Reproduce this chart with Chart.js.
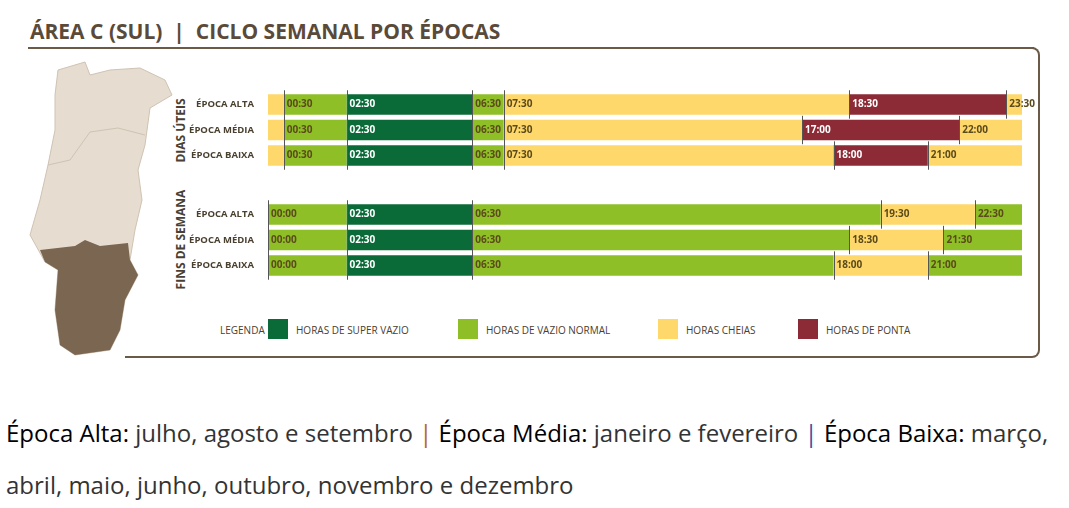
<!DOCTYPE html>
<html>
<head>
<meta charset="utf-8">
<script src="https://cdn.jsdelivr.net/npm/chart.js@4"></script>
<style>
  body { margin: 0; width: 1069px; height: 508px; background: #fff; position: relative; overflow: hidden; font-family: "Open Sans", sans-serif; }
  .abs { position: absolute; }
  #title { left: 30px; top: 17px; font-weight: bold; font-size: 21px; color: #5a4a3a; white-space: pre; }
  .vt { transform: rotate(-90deg); transform-origin: center; font-weight: bold; font-size: 12px; color: #4a3f33; white-space: nowrap; text-align: center; width: 140px; }
  .leg { font-size: 10px; color: #4a4030; top: 323px; }
  .sw { width: 20px; height: 20px; top: 319px; }
  .bottom { left: 6px; font-size: 24px; color: #333; white-space: nowrap; }
  .bottom b { color: #000; font-weight: 500; }
</style>
</head>
<body>
<div id="title" class="abs">ÁREA C (SUL)  |  CICLO SEMANAL POR ÉPOCAS</div>
<div class="abs" style="left:28px;top:47px;width:1006px;height:2px;background:#6b5a48"></div>
<div class="abs" style="left:125px;top:47px;width:913px;height:307px;border-right:2px solid #6b5a48;border-bottom:2px solid #6b5a48;border-bottom-right-radius:8px;border-top-right-radius:8px;border-top:2px solid #6b5a48"></div>

<svg class="abs" style="left:0;top:0" width="200" height="370">
  <polygon fill="#e6ddd0" stroke="#cfc3b3" points="58,70 85,62 90,75 110,70 140,68 165,80 172,95 150,108 145,145 138,170 142,200 135,230 130,260 138,275 125,300 120,330 110,350 75,355 60,345 55,310 58,270 45,262 30,235 40,200 48,165 55,130 55,95"/>
  <polyline fill="none" stroke="#cfc3b3" points="48,165 70,160 90,132 118,128 145,135"/>
  <polygon fill="#7a6651" points="40,250 75,246 85,240 100,246 128,243 130,260 138,275 125,300 120,330 110,350 75,355 60,345 55,310 58,270 45,262"/>
</svg>

<div class="abs vt" style="left:110px;top:122px">DIAS ÚTEIS</div>
<div class="abs vt" style="left:110px;top:231px">FINS DE SEMANA</div>

<div class="abs" style="left:185px;top:80px;width:855px;height:100px"><canvas id="c1"></canvas></div>
<div class="abs" style="left:185px;top:190px;width:855px;height:100px"><canvas id="c2"></canvas></div>

<div class="abs leg" style="left:220px">LEGENDA</div>
<div class="abs sw" style="left:268px;background:#0a6b38"></div>
<div class="abs leg" style="left:296px">HORAS DE SUPER VAZIO</div>
<div class="abs sw" style="left:458px;background:#8fbf27"></div>
<div class="abs leg" style="left:486px">HORAS DE VAZIO NORMAL</div>
<div class="abs sw" style="left:658px;background:#ffd86b"></div>
<div class="abs leg" style="left:686px">HORAS CHEIAS</div>
<div class="abs sw" style="left:798px;background:#8c2a35"></div>
<div class="abs leg" style="left:826px">HORAS DE PONTA</div>

<div class="abs bottom" style="top:416px"><b>Época Alta:</b> julho, agosto e setembro <span style="color:#b5651d">|</span> <b>Época Média:</b> janeiro e fevereiro <span style="color:#3050a0">|</span> <b>Época Baixa:</b> março,</div>
<div class="abs bottom" style="top:468px">abril, maio, junho, outubro, novembro e dezembro</div>

<script>
const rows = ['ÉPOCA ALTA', 'ÉPOCA MÉDIA', 'ÉPOCA BAIXA'];
// segment boundaries in hours, per row
const weekdayBreaks = [
  [0, 0.5, 2.5, 6.5, 7.5, 18.5, 23.5, 24],
  [0, 0.5, 2.5, 6.5, 7.5, 17, 22, 24],
  [0, 0.5, 2.5, 6.5, 7.5, 18, 21, 24]
];
const weekdayKinds = ['cheias', 'vazio', 'super', 'vazio', 'cheias', 'ponta', 'cheias'];
const weekendBreaks = [
  [0, 2.5, 6.5, 19.5, 22.5, 24],
  [0, 2.5, 6.5, 18.5, 21.5, 24],
  [0, 2.5, 6.5, 18, 21, 24]
];
const weekendKinds = ['vazio', 'super', 'vazio', 'cheias', 'vazio'];

const colors = { super: '#0a6b38', vazio: '#8fbf27', cheias: '#ffd86b', ponta: '#8c2a35' };
const textColors = { super: '#ffffff', vazio: '#5b4a1a', cheias: '#5b4a1a', ponta: '#ffffff' };

function fmt(h) {
  const hh = Math.floor(h), mm = Math.round((h - hh) * 60);
  return String(hh).padStart(2, '0') + ':' + String(mm).padStart(2, '0');
}

const labelPlugin = {
  id: 'segLabels',
  afterDatasetsDraw(chart) {
    const ctx = chart.ctx;
    ctx.save();
    ctx.font = 'bold 10px "Open Sans"';
    ctx.textBaseline = 'middle';
    chart.data.datasets.forEach((ds, i) => {
      if (ds.skipLabel) return;
      chart.getDatasetMeta(i).data.forEach((el, r) => {
        const start = Math.min(el.x, el.base);
        const top = el.y - el.height / 2, bot = el.y + el.height / 2;
        ctx.strokeStyle = '#555';
        ctx.lineWidth = 1;
        ctx.beginPath();
        ctx.moveTo(Math.round(start) + 0.5, top - 4);
        ctx.lineTo(Math.round(start) + 0.5, bot + 4);
        ctx.stroke();
        ctx.fillStyle = ds.textColor;
        ctx.fillText(fmt(ds.data[r][0]), start + 3, el.y);
      });
    });
    ctx.restore();
  }
};

function makeChart(id, breaks, kinds, skipFirst) {
  const datasets = kinds.map((k, j) => ({
    data: breaks.map(b => [b[j], b[j + 1]]),
    backgroundColor: colors[k],
    textColor: textColors[k],
    skipLabel: skipFirst && j === 0,
    grouped: false,
    barPercentage: 0.8,
    categoryPercentage: 1
  }));
  new Chart(document.getElementById(id), {
    type: 'bar',
    data: { labels: rows, datasets },
    options: {
      indexAxis: 'y',
      responsive: true,
      maintainAspectRatio: false,
      animation: false,
      layout: { padding: { top: 4, bottom: 4, right: 18 } },
      plugins: { legend: { display: false }, tooltip: { enabled: false } },
      scales: {
        x: { display: false, min: 0, max: 24 },
        y: {
          grid: { display: false }, border: { display: false },
          ticks: { color: '#4a4030', font: { family: 'Open Sans', size: 9.5, weight: 'bold' }, padding: 6 },
          afterFit(scale) { scale.width = 83; }
        }
      }
    },
    plugins: [labelPlugin]
  });
}

makeChart('c1', weekdayBreaks, weekdayKinds, true);
makeChart('c2', weekendBreaks, weekendKinds, false);
</script>
</body>
</html>
